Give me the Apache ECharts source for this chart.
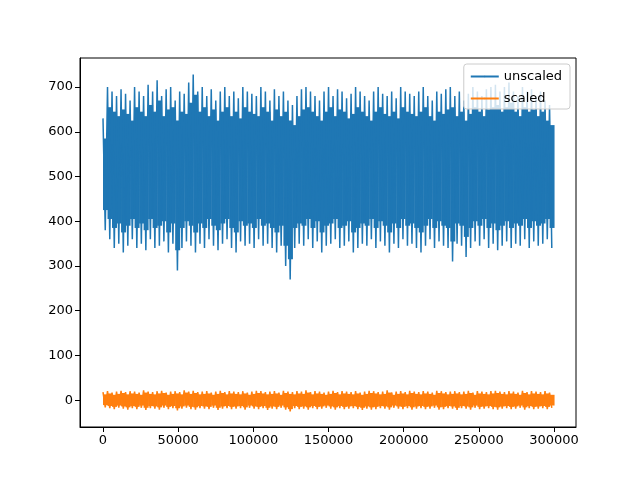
<!DOCTYPE html><html><head><meta charset="utf-8">
<script src="https://cdn.jsdelivr.net/npm/echarts@6/dist/echarts.min.js"></script>
<style>html,body{margin:0;padding:0;background:#fff}#c{width:640px;height:480px}</style></head><body><div id="c"></div>
<script>
const binStep = 3000;
const unscaledHigh=[630,700,690,680,695,685,670,700,690,680,705,690,715,680,695,700,670,690,685,710,728,690,700,680,695,670,690,700,680,690,675,700,690,685,680,700,690,670,695,680,690,670,660,680,695,700,690,680,670,690,700,680,695,690,675,685,700,690,680,670,690,700,685,680,690,675,700,690,685,680,690,700,680,670,690,685,695,700,680,690,670,685,700,690,680,695,700,705,690,700,710,690,680,700,690,695,680,690,670,660];
const unscaledLow=[380,360,340,350,330,345,360,340,350,335,360,340,345,355,330,350,290,340,355,345,330,350,340,360,345,335,350,360,340,330,355,345,350,340,360,345,350,340,330,345,300,270,340,350,345,360,340,355,330,345,350,360,340,345,355,330,340,350,345,360,340,355,345,330,350,340,360,345,350,340,330,345,360,340,355,345,340,310,350,345,320,340,355,345,360,340,350,335,345,355,340,350,345,360,340,355,345,350,360,340];
const scaledHigh=[18,20,17,19,21,18,20,19,17,22,19,18,20,21,17,19,20,18,22,19,21,18,19,20,17,19,21,18,20,19,18,20,17,19,21,20,18,19,20,17,21,19,18,20,19,22,18,20,19,17,19,21,18,20,19,18,20,17,19,21,20,18,19,22,17,19,20,18,21,19,18,20,19,17,21,20,18,19,20,18,19,21,17,20,19,18,20,21,19,18,20,19,17,21,18,20,19,18,20,17];
const scaledLow=[-16,-18,-20,-17,-19,-21,-18,-20,-17,-22,-18,-19,-21,-17,-20,-18,-23,-19,-17,-20,-21,-18,-19,-20,-17,-22,-19,-18,-20,-19,-18,-21,-17,-19,-20,-18,-22,-19,-20,-17,-21,-25,-18,-20,-19,-21,-18,-20,-19,-17,-19,-21,-18,-20,-19,-18,-20,-22,-19,-21,-20,-18,-19,-21,-17,-19,-20,-18,-21,-19,-18,-20,-19,-17,-21,-20,-18,-19,-22,-18,-19,-21,-17,-20,-19,-18,-20,-21,-19,-18,-20,-19,-17,-21,-18,-20,-19,-18,-20,-17];
const xTicks=[0,50000,100000,150000,200000,250000,300000];
const yTicks=[0,100,200,300,400,500,600,700];
function zig(hi,lo){const d=[];for(let i=0;i<hi.length;i++){d.push([i*binStep,hi[i]]);d.push([i*binStep+binStep/2,lo[i]]);}return d;}
function bins(hi,lo){return hi.map((v,i)=>[i*binStep,lo[i],v]);}
const font='DejaVu Sans';
const ch=echarts.init(document.getElementById('c'));
function band(hi,lo,color,shrink){return {type:'custom',silent:true,z:1,data:bins(hi,lo),encode:{x:0,y:[1,2]},
 renderItem:(p,api)=>{const x0=api.value(0);const lo=api.value(1)+shrink,hi=api.value(2)-shrink;
  const a=api.coord([x0,lo]),b=api.coord([x0+binStep,hi]);
  return {type:'rect',shape:{x:a[0],y:b[1],width:b[0]-a[0]+0.5,height:a[1]-b[1]},style:{fill:color}};}};}
ch.setOption({animation:false,
grid:{left:80,right:64,top:58,bottom:53,show:true,borderColor:'#000',borderWidth:1},
xAxis:{type:'value',min:-15300,max:314600,splitLine:{show:false},
 axisLine:{onZero:false,lineStyle:{color:'#000'}},
 axisTick:{customValues:xTicks,length:5,lineStyle:{color:'#000'}},
 axisLabel:{customValues:xTicks,color:'#000',fontFamily:font,fontSize:13,margin:7,formatter:v=>String(v)}},
yAxis:{type:'value',min:-60,max:765,splitLine:{show:false},
 axisLine:{show:true,onZero:false,lineStyle:{color:'#000'}},
 axisTick:{show:true,customValues:yTicks,length:5,lineStyle:{color:'#000'}},
 axisLabel:{customValues:yTicks,color:'#000',fontFamily:font,fontSize:13,margin:7,formatter:v=>String(v)}},
legend:{orient:'vertical',right:70,top:64,itemWidth:28,itemHeight:2,itemGap:9,
 backgroundColor:'rgba(255,255,255,0.8)',borderColor:'#ccc',borderWidth:1,borderRadius:3,padding:[6,8,4,6],
 textStyle:{fontFamily:font,fontSize:13,color:'#000'},data:['unscaled','scaled']},
series:[
 band(unscaledHigh,unscaledLow,'#1f77b4',45),
 band(scaledHigh,scaledLow,'#ff7f0e',5),
 {name:'unscaled',type:'line',symbol:'none',data:zig(unscaledHigh,unscaledLow),lineStyle:{width:1.5,color:'#1f77b4'},color:'#1f77b4',z:2},
 {name:'scaled',type:'line',symbol:'none',data:zig(scaledHigh,scaledLow),lineStyle:{width:1.5,color:'#ff7f0e'},color:'#ff7f0e',z:2}
]});
</script></body></html>
